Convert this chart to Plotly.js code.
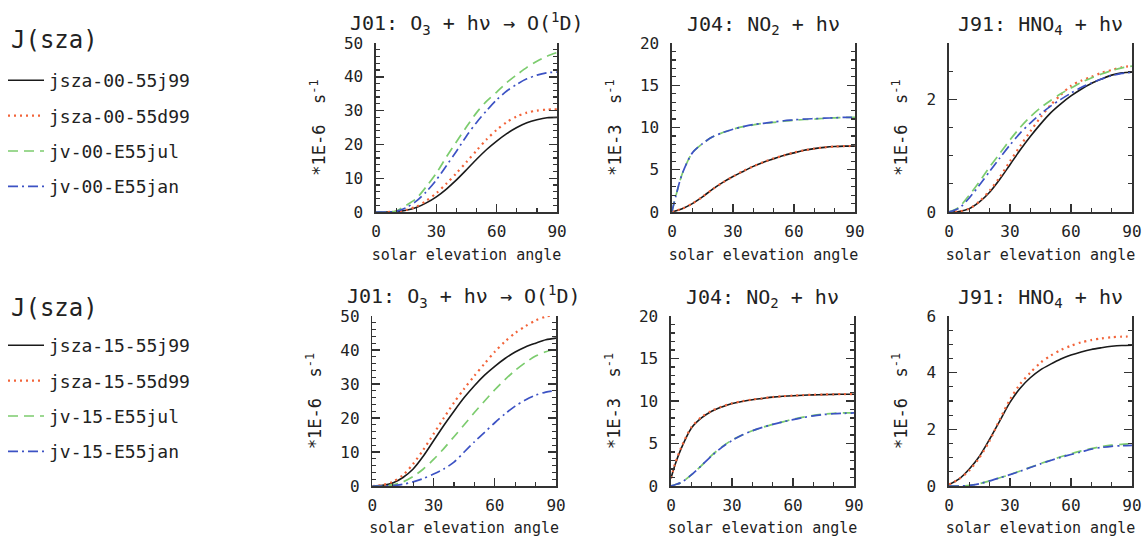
<!DOCTYPE html>
<html>
<head>
<meta charset="utf-8">
<script src="https://cdn.plot.ly/plotly-3.0.1.min.js"></script>
<style>html,body{margin:0;padding:0;background:#fff;}#chart{width:1145px;height:541px;}</style>
</head>
<body>
<div id="chart"></div>
<script>
// ---- data ----
const sza = [0,5,10,15,20,25,30,35,40,45,50,55,60,65,70,75,80,85,90];
const szaNO2 = [0,2,5,10,15,20,25,30,35,40,45,50,55,60,65,70,75,80,85,90];

const names00 = ["jsza-00-55j99","jsza-00-55d99","jv-00-E55jul","jv-00-E55jan"];
const names15 = ["jsza-15-55j99","jsza-15-55d99","jv-15-E55jul","jv-15-E55jan"];
const legendTitle = "J(sza)";

const panelTitles = [
  "J01: O<sub>3</sub> + h\u03bd \u2192 O(<sup>1</sup>D)",
  "J04: NO<sub>2</sub> + h\u03bd",
  "J91: HNO<sub>4</sub> + h\u03bd"
];
const yTitles = ["*1E-6  s<sup>-1</sup>", "*1E-3  s<sup>-1</sup>", "*1E-6  s<sup>-1</sup>"];
const xTitle = "solar elevation angle";

// top row (00)
const j01_00_j99 = [0,0,0.1,0.5,1.3,2.7,4.5,6.8,9.5,12.5,15.6,18.5,21.0,23.2,25.0,26.4,27.3,27.9,28.0];
const j01_00_d99 = [0,0,0.1,0.6,1.6,3.3,5.6,8.4,11.5,14.8,18.2,21.5,24.3,26.6,28.3,29.4,30.0,30.3,30.4];
const j01_00_jul = [0,0,0.3,2.0,4.0,7.5,11.5,16.3,20.8,25.2,29.4,32.8,35.5,38.3,40.6,42.8,44.6,46.1,47.2];
const j01_00_jan = [0,0,0.2,1.3,3.2,6.0,9.5,13.7,18.0,22.5,26.5,30.0,33.2,35.8,37.8,39.4,40.5,41.2,41.4];

const j04_00_j99 = [0,0.15,0.4,1.0,1.8,2.7,3.5,4.2,4.8,5.4,5.9,6.3,6.7,7.0,7.3,7.5,7.65,7.75,7.8,7.8];
const j04_00_d99 = [0,0.15,0.4,1.0,1.8,2.7,3.5,4.2,4.85,5.4,5.9,6.35,6.7,7.05,7.3,7.5,7.65,7.75,7.8,7.82];
const j04_00_jul = [0.1,2.0,4.5,7.0,8.1,8.9,9.4,9.8,10.1,10.3,10.5,10.6,10.75,10.85,10.95,11.0,11.1,11.15,11.2,11.2];
const j04_00_jan = [0.1,2.0,4.5,7.0,8.1,8.9,9.4,9.8,10.1,10.35,10.5,10.65,10.8,10.9,11.0,11.05,11.1,11.15,11.2,11.2];

const j91_00_j99 = [0,0.01,0.06,0.18,0.35,0.58,0.84,1.1,1.34,1.56,1.76,1.92,2.06,2.18,2.28,2.36,2.43,2.47,2.48];
const j91_00_d99 = [0,0.01,0.06,0.19,0.38,0.62,0.9,1.17,1.43,1.68,1.9,2.08,2.24,2.33,2.4,2.47,2.52,2.57,2.59];
const j91_00_jul = [0,0.09,0.3,0.54,0.8,1.04,1.28,1.5,1.69,1.85,1.98,2.1,2.2,2.3,2.38,2.45,2.51,2.56,2.59];
const j91_00_jan = [0,0.07,0.25,0.48,0.72,0.96,1.19,1.4,1.58,1.74,1.88,2.0,2.11,2.21,2.29,2.36,2.42,2.46,2.48];

// bottom row (15)
const j01_15_j99 = [0,0.2,0.9,2.5,5.0,8.8,13.3,17.8,22.0,26.0,29.5,32.6,35.2,37.5,39.4,40.9,42.0,43.0,43.5];
const j01_15_d99 = [0,0.3,1.2,3.2,6.5,10.7,15.3,20.0,24.5,28.6,32.4,36.0,39.5,42.5,45.0,47.0,48.7,49.8,50.5];
const j01_15_jul = [0,0,0.3,1.2,2.8,5.0,7.8,11.0,14.5,18.0,21.6,25.0,28.3,31.3,34.0,36.3,38.2,39.5,40.3];
const j01_15_jan = [0,0,0.1,0.5,1.2,2.2,3.5,5.0,7.0,10.0,13.0,15.8,18.6,21.2,23.5,25.3,26.7,27.6,28.1];

const j04_15_j99 = [0.9,2.5,4.4,6.8,8.0,8.8,9.3,9.7,9.95,10.15,10.3,10.45,10.55,10.62,10.68,10.72,10.75,10.78,10.8,10.8];
const j04_15_d99 = [0.9,2.6,4.5,6.9,8.1,8.85,9.35,9.72,9.97,10.17,10.32,10.46,10.56,10.63,10.69,10.73,10.76,10.79,10.81,10.82];
const j04_15_jul = [0,0.15,0.4,1.3,2.4,3.6,4.6,5.4,6.0,6.5,6.9,7.25,7.55,7.85,8.1,8.3,8.45,8.55,8.6,8.6];
const j04_15_jan = [0,0.15,0.4,1.3,2.4,3.55,4.55,5.35,6.0,6.5,6.9,7.25,7.55,7.8,8.05,8.25,8.4,8.5,8.55,8.6];

const j91_15_j99 = [0.05,0.25,0.6,1.05,1.65,2.3,2.95,3.45,3.82,4.1,4.3,4.48,4.62,4.73,4.82,4.88,4.93,4.96,4.97];
const j91_15_d99 = [0.05,0.25,0.55,1.0,1.6,2.35,3.05,3.6,4.0,4.35,4.6,4.8,4.95,5.07,5.15,5.21,5.25,5.27,5.28];
const j91_15_jul = [0,0,0.02,0.08,0.18,0.29,0.4,0.53,0.66,0.79,0.91,1.03,1.14,1.24,1.32,1.39,1.44,1.47,1.49];
const j91_15_jan = [0,0,0.02,0.08,0.18,0.29,0.4,0.52,0.65,0.78,0.9,1.01,1.11,1.2,1.3,1.36,1.4,1.42,1.43];

// ---- styles ----
const lineStyles = [
  {color:"#1a1a1a", width:1.6, dash:"solid"},
  {color:"#f2643a", width:2.2, dash:"2px,4px"},
  {color:"#7ccc6e", width:1.7, dash:"10px,6px"},
  {color:"#3c52c4", width:1.7, dash:"10px,4px,2px,4px"}
];
const FONT = "DejaVu Sans Mono, monospace";
const AX = "#333";

const panels = [
  {row:0, xs:sza,    ys:[j01_00_j99,j01_00_d99,j01_00_jul,j01_00_jan], names:names00},
  {row:0, xs:szaNO2, ys:[j04_00_j99,j04_00_d99,j04_00_jul,j04_00_jan], names:names00},
  {row:0, xs:sza,    ys:[j91_00_j99,j91_00_d99,j91_00_jul,j91_00_jan], names:names00},
  {row:1, xs:sza,    ys:[j01_15_j99,j01_15_d99,j01_15_jul,j01_15_jan], names:names15},
  {row:1, xs:szaNO2, ys:[j04_15_j99,j04_15_d99,j04_15_jul,j04_15_jan], names:names15},
  {row:1, xs:sza,    ys:[j91_15_j99,j91_15_d99,j91_15_jul,j91_15_jan], names:names15}
];
const yRanges = [[0,50],[0,20],[0,3],[0,50],[0,20],[0,6]];
const yDticks = [10,5,2,10,5,2];
const yMinor  = [2,1,0.5,2,1,0.5];
const xDomains = [[0.3284,0.4865],[0.5869,0.7467],[0.8288,0.9886],[0.3252,0.4856],[0.5860,0.7459],[0.8288,0.9886]];
const yDomains = [[0.6081,0.9205],[0.1017,0.4159]];

const traces = [];
panels.forEach((p, i) => {
  const sfx = i === 0 ? "" : String(i+1);
  p.ys.forEach((y, k) => {
    const isLegendPanel = (i === 0 || i === 3);
    traces.push({
      type:"scatter", mode:"lines", x:p.xs, y:y,
      xaxis:"x"+sfx, yaxis:"y"+sfx,
      name:p.names[k],
      legend: p.row === 0 ? "legend" : "legend2",
      legendgroup: "g"+p.row+"_"+k,
      showlegend: isLegendPanel,
      line:Object.assign({shape:"spline", smoothing:0.8}, lineStyles[k]),
      hoverinfo:"x+y+name"
    });
  });
});

const layout = {
  width:1145, height:541,
  margin:{l:0,r:0,t:0,b:0},
  paper_bgcolor:"#fff", plot_bgcolor:"#fff",
  font:{family:FONT, color:"#222"},
  showlegend:true,
  annotations:[]
};

const legendCommon = (ytop) => ({
  x:3/1145, y:1 - ytop/541, xanchor:"left", yanchor:"top",
  bgcolor:"rgba(0,0,0,0)", borderwidth:0,
  font:{family:FONT, size:18, color:"#222"},
  itemwidth:36, tracegroupgap:9, traceorder:"grouped"
});
layout.legend = legendCommon(62);
layout.legend2 = legendCommon(327);

// legend headers
[40, 308].forEach(yc => {
  layout.annotations.push({
    xref:"paper", yref:"paper", x:9/1145, y:1 - yc/541,
    xanchor:"left", yanchor:"middle", showarrow:false,
    text:legendTitle, font:{family:FONT, size:24, color:"#222"}
  });
});

panels.forEach((p, i) => {
  const sfx = i === 0 ? "" : String(i+1);
  layout["xaxis"+sfx] = {
    domain:xDomains[i], anchor:"y"+sfx, range:[0,90],
    tick0:0, dtick:30, ticks:"inside", ticklen:8, tickwidth:1.4, tickcolor:AX,
    minor:{dtick:10, ticks:"inside", ticklen:4, tickwidth:1.2, tickcolor:AX},
    showline:true, linecolor:AX, linewidth:1.6, mirror:false,
    showgrid:false, zeroline:false,
    tickfont:{family:FONT, size:16, color:"#222"},
    ticklabelstandoff:4,
    title:{text:xTitle, font:{family:FONT, size:15, color:"#222"}, standoff:9}
  };
  layout["yaxis"+sfx] = {
    domain:yDomains[p.row], anchor:"x"+sfx, range:yRanges[i],
    tick0:0, dtick:yDticks[i], ticks:"inside", ticklen:8, tickwidth:1.4, tickcolor:AX,
    minor:{dtick:yMinor[i], ticks:"inside", ticklen:4, tickwidth:1.2, tickcolor:AX},
    showline:true, linecolor:AX, linewidth:1.6, mirror:"ticks",
    showgrid:false, zeroline:false,
    tickfont:{family:FONT, size:16, color:"#222"},
    ticklabelstandoff:8,
    title:{text:yTitles[i % 3], font:{family:FONT, size:17, color:"#222"}, standoff:14}
  };
  layout.annotations.push({
    xref:"x"+sfx+" domain", yref:"y"+sfx+" domain", x:0.5, y:1,
    xanchor:"center", yanchor:"bottom", yshift:3,
    text:panelTitles[i % 3], showarrow:false,
    font:{family:FONT, size:20, color:"#222"}
  });
});

Plotly.newPlot("chart", traces, layout, {displayModeBar:false, staticPlot:true});
</script>
</body>
</html>
